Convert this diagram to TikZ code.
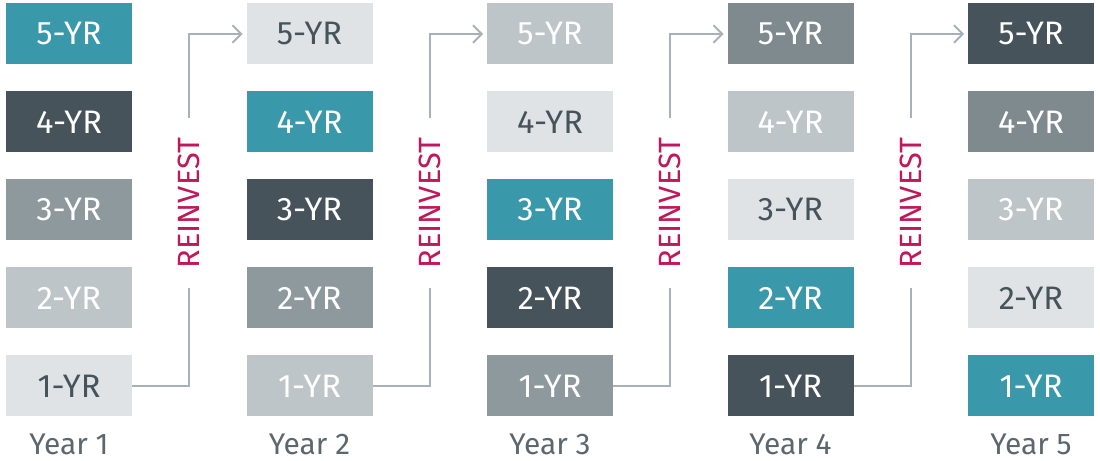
\documentclass[tikz,border=0pt]{standalone}
\usepackage{fontspec}
\setmainfont{Fira Sans}
\usetikzlibrary{matrix,arrows.meta,calc}
\definecolor{bondteal}{HTML}{3A98AB}
\definecolor{bonddark}{HTML}{47535B}
\definecolor{bondslate}{HTML}{7F8A8F}
\definecolor{bondmid}{HTML}{8E999E}
\definecolor{bondlight}{HTML}{BEC5C8}
\definecolor{bondpale}{HTML}{DFE3E6}
\definecolor{linkgray}{HTML}{A7B1B7}
\definecolor{reinvestred}{HTML}{C0185A}
\definecolor{yeartext}{HTML}{5B676E}

\begin{document}
\begin{tikzpicture}[>={Straight Barb[length=5pt,width=10pt]},
bond/.style={minimum width=2.52cm,minimum height=1.22cm,inner sep=0pt,
  text=white,font=\fontsize{18.5}{18.5}\selectfont},
yrteal/.style={fill=bondteal},
yrdark/.style={fill=bonddark},
yrslate/.style={fill=bondslate},
yrmid/.style={fill=bondmid},
yrlight/.style={fill=bondlight},
yrpale/.style={fill=bondpale,text=bonddark},
link/.style={draw=linkgray,line width=1.1pt},
reinvest/.style={rotate=90,text=reinvestred,font=\fontsize{17.5}{17.5}\selectfont,
  inner xsep=0.38cm},
yearlbl/.style={text=yeartext,inner sep=0pt,font=\fontsize{17}{17}\selectfont}]
\useasboundingbox (0,0) rectangle (22,9.22);
\matrix(a) at (11,5.02) [matrix of nodes,
row sep=0.54cm, column sep=2.29cm,
nodes={bond}]
{
|[yrteal]| 5-YR & |[yrpale]| 5-YR & |[yrlight]| 5-YR & |[yrslate]| 5-YR & |[yrdark]| 5-YR \\
|[yrdark]| 4-YR & |[yrteal]| 4-YR & |[yrpale]| 4-YR & |[yrlight]| 4-YR & |[yrslate]| 4-YR \\
|[yrmid]| 3-YR & |[yrdark]| 3-YR & |[yrteal]| 3-YR & |[yrpale]| 3-YR & |[yrlight]| 3-YR \\
|[yrlight]| 2-YR & |[yrmid]| 2-YR & |[yrdark]| 2-YR & |[yrteal]| 2-YR & |[yrpale]| 2-YR \\
|[yrpale]| 1-YR & |[yrlight]| 1-YR & |[yrmid]| 1-YR & |[yrdark]| 1-YR & |[yrteal]| 1-YR \\};
% year labels
\foreach \i in {1,...,5}
  \node[yearlbl] (y\i) at ([yshift=-0.55cm]a-5-\i.south) {Year \i};
% reinvest links
\foreach \i/\j in {1/2,2/3,3/4,4/5}{
  \node[reinvest] (r\i) at ($(a-3-\i.east)!.5!(a-3-\j.west)+(0,0.14)$) {REINVEST};
  \draw[link] (a-5-\i.east) -| (r\i.west);
  \draw[link,->,shorten >=2pt] (r\i.east) |- (a-1-\j.west);
}
\end{tikzpicture}
\end{document}
